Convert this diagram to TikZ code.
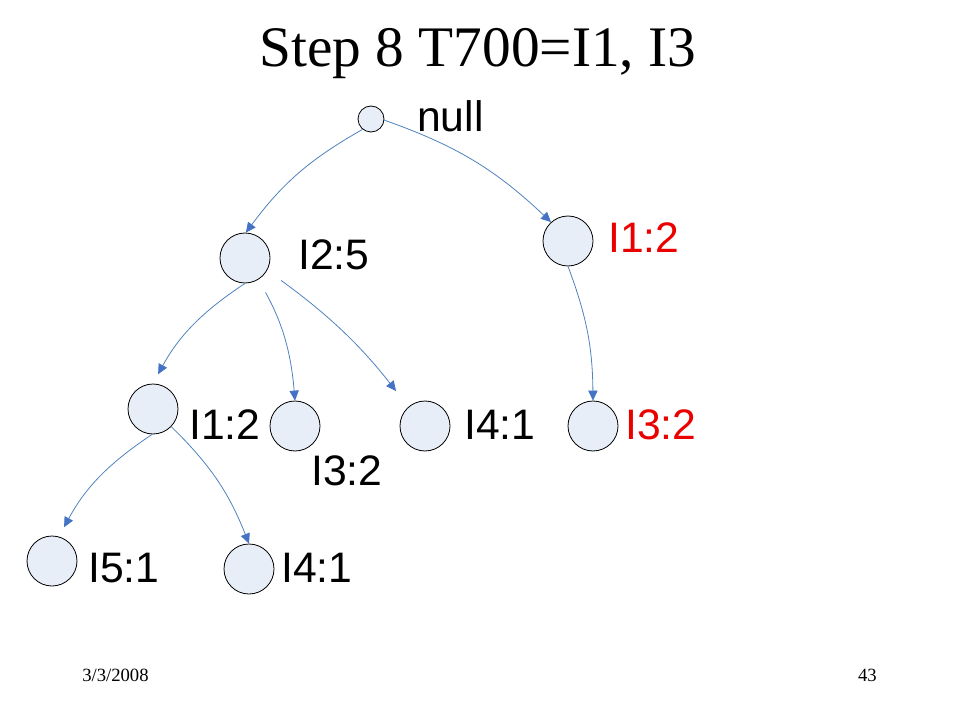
\documentclass[tikz,border=0pt]{standalone}
\usepackage{fontspec}
\setmainfont{Liberation Serif}
\setsansfont{Liberation Sans}
\usepackage{tikz}
\usetikzlibrary{arrows.meta, positioning}
\usepackage{xcolor}
\definecolor{nodefill}{RGB}{232,238,247}
\definecolor{edgeblue}{RGB}{79,129,189}
\definecolor{tipblue}{RGB}{68,114,196}
\definecolor{itemred}{RGB}{235,0,0}

\tikzset{
  item/.style={circle, draw=black, line width=0.6pt, fill=nodefill,
    minimum size=37.5pt, inner sep=0pt},
  rootitem/.style={item, minimum size=19.5pt},
  count/.style={anchor=base west, inner sep=0pt,
    font=\sffamily\fontsize{32}{38}\selectfont},
  edge/.style={->, draw=edgeblue, line width=0.6pt}
}

\begin{document}
\begin{tikzpicture}[x=0.75pt, y=-0.75pt,
  >={Triangle[length=7.5pt, width=7pt, color=tipblue]}]
\useasboundingbox (0,0) rectangle (960,720);

\node[anchor=base, inner sep=0pt, font=\fontsize{43}{50}\selectfont] (title) at (478,67) {Step 8 T700=I1, I3};

% tree nodes
\node[rootitem] (null) at (371,119) {};
\node[item] (i25) at (245,258) {};
\node[item] (i12r) at (568,241) {};
\node[item] (i12) at (153,409) {};
\node[item] (i32) at (295,426) {};
\node[item] (i41) at (425,426) {};
\node[item] (i32r) at (593,426) {};
\node[item] (i51) at (52,561) {};
\node[item] (i41b) at (249,569) {};

% counts
\node[count] (lnull) at (417,132) {null};
\node[count] (l25) at (298,270) {I2:5};
\node[count, text=itemred] (l12r) at (608,253) {I1:2};
\node[count] (l12) at (189,439) {I1:2};
\node[count] (l32) at (311,485) {I3:2};
\node[count] (l41) at (464,439) {I4:1};
\node[count, text=itemred] (l32r) at (625,439) {I3:2};
\node[count] (l51) at (88,582) {I5:1};
\node[count] (l41b) at (281,582) {I4:1};

% arrows
\draw[edge] (null.-129) to[bend right=12] (i25.88);
\draw[edge] (null.-5) to[bend left=12] (i12r.132);
\draw[edge, shorten >=8pt] (i25.-90) to[bend right=14] (i12.90);
\draw[edge, shorten <=11pt] (i25.-58) to[bend left=12] (i32.90);
\draw[edge, shorten <=13pt, shorten >=15pt] (i25.-29) to[bend left=8] (i41.131);
\draw[edge] (i12r.-90) to[bend left=10] (i32r.90);
\draw[edge, shorten >=8pt] (i12.-92) to[bend right=14] (i51.74);
\draw[edge] (i12.-44) to[bend left=12] (i41b.90);

% footer
\node[anchor=base west, inner sep=0pt, font=\fontsize{14}{16}\selectfont] (date) at (82,681) {3/3/2008};
\node[anchor=base east, inner sep=0pt, font=\fontsize{14}{16}\selectfont] (page) at (877,681) {43};

\end{tikzpicture}
\end{document}
